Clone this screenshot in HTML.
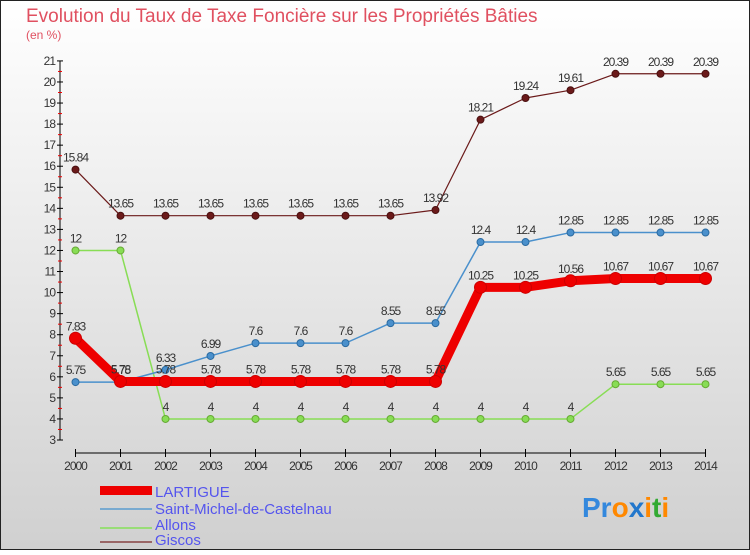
<!DOCTYPE html>
<html><head><meta charset="utf-8"><style>
body{margin:0;width:750px;height:550px;overflow:hidden;font-family:"Liberation Sans",sans-serif}
</style></head><body>
<svg width="750" height="550" xmlns="http://www.w3.org/2000/svg" id="chart">
<defs><linearGradient id="bg" x1="0" y1="0" x2="0" y2="1"><stop offset="0" stop-color="#ffffff"/><stop offset="1" stop-color="#d0d0d0"/></linearGradient></defs>
<rect x="0.5" y="0.5" width="749" height="549" fill="url(#bg)" stroke="#222"/>
<text x="26" y="22" font-size="19" fill="#e05060">Evolution du Taux de Taxe Foncière sur les Propriétés Bâties</text>
<text x="26" y="39" font-size="12" fill="#e05060">(en %)</text>
<g id="axes"></g><g id="series"></g>
<g>
<rect x="100" y="486" width="52" height="9" fill="#e00"/>
<text x="155" y="497" font-size="15" fill="#5555ee">LARTIGUE</text>
<rect x="100" y="508" width="52" height="2" fill="#79aad0"/>
<text x="155" y="514" font-size="15" fill="#5555ee">Saint-Michel-de-Castelnau</text>
<rect x="100" y="527" width="52" height="2" fill="#99dd77"/>
<text x="155" y="530" font-size="15" fill="#5555ee">Allons</text>
<rect x="100" y="541" width="52" height="2" fill="#996666"/>
<text x="155" y="545" font-size="15" fill="#5555ee">Giscos</text>
</g>
<text x="582" y="517" font-size="28" font-weight="bold"><tspan fill="#3388dd">Pr</tspan><tspan fill="#ff8800">o</tspan><tspan fill="#2277cc">x</tspan><tspan fill="#ff8800">i</tspan><tspan fill="#33aa33">t</tspan><tspan fill="#ff8800">i</tspan></text>
</svg>
<script>
const years=[2000,2001,2002,2003,2004,2005,2006,2007,2008,2009,2010,2011,2012,2013,2014];
const yTicks=[3,4,5,6,7,8,9,10,11,12,13,14,15,16,17,18,19,20,21];
const lartigue=[7.83,5.78,5.78,5.78,5.78,5.78,5.78,5.78,5.78,10.25,10.25,10.56,10.67,10.67,10.67];
const saintMichel=[5.75,5.75,6.33,6.99,7.6,7.6,7.6,8.55,8.55,12.4,12.4,12.85,12.85,12.85,12.85];
const allons=[12,12,4,4,4,4,4,4,4,4,4,4,5.65,5.65,5.65];
const giscos=[15.84,13.65,13.65,13.65,13.65,13.65,13.65,13.65,13.92,18.21,19.24,19.61,20.39,20.39,20.39];
const NS="http://www.w3.org/2000/svg";
const xs=i=>75.5+i*45.0;
const ys=v=>440-(v-3)*21.06;
function mk(t,a,p){const e=document.createElementNS(NS,t);for(const k in a)e.setAttribute(k,a[k]);p.appendChild(e);return e;}
const ax=document.getElementById('axes');
let l=mk('line',{x1:60,y1:ys(21),x2:60,y2:ys(3),stroke:'#000'},ax);


yTicks.forEach(v=>{
 const tk=mk('line',{x1:57,x2:63,y1:ys(v),y2:ys(v),stroke:'#000'},ax);
 
 
 if(v<21){const m=mk('line',{x1:58,x2:62,y1:ys(v+0.5),y2:ys(v+0.5),stroke:'#e00'},ax);
 
 }
 const t=mk('text',{x:55,y:ys(v)+4,'font-size':12,'text-anchor':'end',fill:'#333','letter-spacing':'-1'},ax);t.textContent=v;
 
 
});
l=mk('line',{x1:xs(0),y1:453,x2:xs(14),y2:453,stroke:'#000'},ax);


years.forEach((y,i)=>{
 const tk=mk('line',{x1:xs(i),x2:xs(i),y1:449,y2:457,stroke:'#000'},ax);
 
 
 const t=mk('text',{x:xs(i),y:470,'font-size':12,'text-anchor':'middle',fill:'#333','letter-spacing':'-1'},ax);t.textContent=y;
 
 
});
const sg=document.getElementById('series');
function draw(data,color,dark,w,r,name){
 const g=mk('g',{},sg);
 
 
 const pl=mk('polyline',{points:data.map((v,i)=>xs(i)+','+ys(v)).join(' '),fill:'none',stroke:color,'stroke-width':w,'stroke-linejoin':'round'},g);
 
 
 data.forEach((v,i)=>{
  const c=mk('circle',{cx:xs(i),cy:ys(v),r:r,fill:color,stroke:dark,'stroke-width':1},g);
  
  
  const t=mk('text',{x:xs(i),y:ys(v)-8,'font-size':12,'text-anchor':'middle',fill:'#333','letter-spacing':'-1'},g);t.textContent=v;
  
  
 });
}
draw(giscos,'#6b1a1a','#4a1010',1.2,3.5,'giscos');
draw(allons,'#88dd55','#66aa33',1.5,3.5,'allons');
draw(saintMichel,'#4a90cc','#2a6aa0',1.5,3.5,'saint-michel');
draw(lartigue,'#ee0000','#cc0000',9,6,'lartigue');
</script>
</body></html>
